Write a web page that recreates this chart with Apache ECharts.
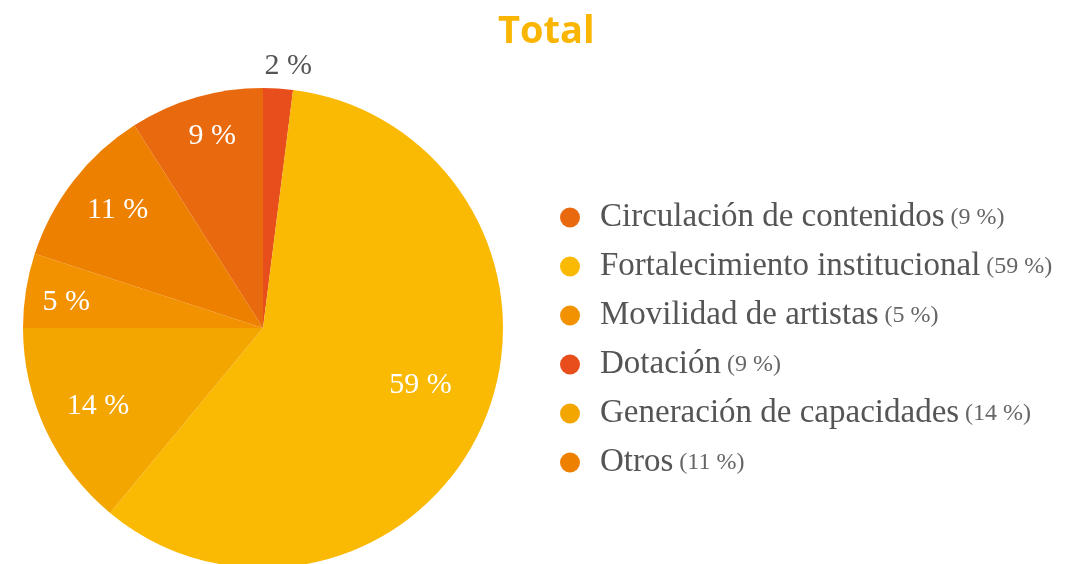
<!DOCTYPE html>
<html>
<head>
<meta charset="utf-8">
<script src="https://cdn.jsdelivr.net/npm/echarts@6/dist/echarts.min.js"></script>
<style>
  html, body { margin: 0; padding: 0; background: #fff; }
  #chart { width: 1075px; height: 564px; }
</style>
</head>
<body>
<div id="chart"></div>
<script>
// slices in drawing order (clockwise from 12 o'clock)
var sliceNames = ['Dotación', 'Fortalecimiento institucional', 'Generación de capacidades',
                  'Movilidad de artistas', 'Otros', 'Circulación de contenidos'];
var sliceValues = [2, 59, 14, 5, 11, 9];
var sliceColors = ['#E84E1B', '#FAB903', '#F4A600', '#F29200', '#EE8000', '#E9690F'];

// legend order and the percentages printed next to each entry
var legendNames = ['Circulación de contenidos', 'Fortalecimiento institucional', 'Movilidad de artistas',
                   'Dotación', 'Generación de capacidades', 'Otros'];
var legendPcts = ['9 %', '59 %', '5 %', '9 %', '14 %', '11 %'];

var serif = '"Liberation Serif", "DejaVu Serif", serif';

// small nudges for the inside labels (they are not all at the same radius in the original)
var labelNudge = {
    'Fortalecimiento institucional': [-16, -18],
    'Circulación de contenidos': [2, -10],
    'Movilidad de artistas': [-10, 4],
    'Generación de capacidades': [6, -2],
    'Otros': [4, -2]
};

// main series: draws the sectors, only the small slice gets an outside label
var mainData = sliceNames.map(function (n, i) {
    return {
        name: n, value: sliceValues[i],
        itemStyle: { color: sliceColors[i] },
        label: { show: sliceValues[i] < 3 }
    };
});

// overlay series (invisible, wider) only carries the inside labels further out
var labelData = sliceNames.map(function (n, i) {
    return {
        name: n, value: sliceValues[i],
        itemStyle: { color: 'rgba(0,0,0,0)' },
        label: { show: sliceValues[i] >= 3, offset: labelNudge[n] || [0, 0] }
    };
});

var option = {
    animation: false,
    title: {
        text: 'Total',
        left: 493,
        top: 8,
        textStyle: {
            color: '#F9B500',
            fontFamily: '"Open Sans", Lato, sans-serif',
            fontWeight: 'bold',
            fontSize: 38
        }
    },
    legend: {
        orient: 'vertical',
        left: 555,
        top: 196,
        icon: 'circle',
        itemWidth: 50,
        itemHeight: 20,
        itemGap: 16,
        data: legendNames,
        selectedMode: false,
        formatter: function (name) {
            var i = legendNames.indexOf(name);
            return '{a|' + name + '}{b|(' + legendPcts[i] + ')}';
        },
        textStyle: {
            rich: {
                a: { fontFamily: serif, fontSize: 33, color: '#555555', lineHeight: 30 },
                b: { fontFamily: serif, fontSize: 24, color: '#666666', lineHeight: 30, padding: [0, 0, 0, 6] }
            }
        }
    },
    series: [{
        type: 'pie',
        center: [263, 328],
        radius: 240,
        startAngle: 90,
        clockwise: true,
        silent: true,
        emphasis: { disabled: true },
        label: {
            position: 'outside',
            formatter: '{c} %',
            fontFamily: serif,
            fontSize: 30,
            color: '#555555',
            offset: [-19, -14]
        },
        labelLine: { show: false, length: 8, length2: 0 },
        data: mainData
    }, {
        type: 'pie',
        center: [263, 328],
        radius: 372,
        startAngle: 90,
        clockwise: true,
        silent: true,
        emphasis: { disabled: true },
        label: {
            position: 'inside',
            formatter: '{c} %',
            fontFamily: serif,
            fontSize: 30,
            color: '#ffffff'
        },
        labelLine: { show: false },
        data: labelData
    }]
};

var myChart = echarts.init(document.getElementById('chart'));
myChart.setOption(option);
</script>
</body>
</html>
